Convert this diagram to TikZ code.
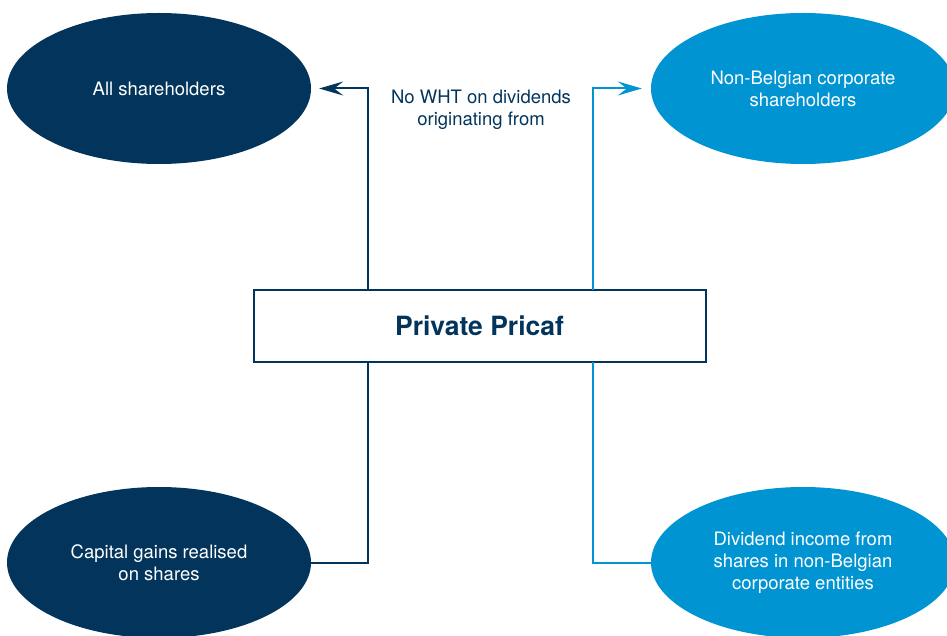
\documentclass[tikz,border=0pt]{standalone}
\usepackage{fontspec}
\setmainfont{TeX Gyre Heros}
\usetikzlibrary{shapes.geometric,arrows.meta}
\definecolor{navy}{HTML}{03355C}
\definecolor{sky}{HTML}{0094D2}
\tikzset{
  blob/.style={ellipse, minimum width=304pt, minimum height=151pt, inner sep=0pt,
    text=white, align=center, font=\fontsize{18.5}{22}\selectfont},
  darkblob/.style={blob, fill=navy},
  lightblob/.style={blob, fill=sky},
  hub/.style={draw=navy, line width=2pt, minimum width=452pt, minimum height=72pt,
    inner sep=0pt, text=navy, font=\fontsize{26.5}{30}\selectfont\bfseries},
  link/.style={line width=2pt},
  tip/.style={-{Stealth[length=24pt, width=14pt, inset=9pt]}},
}
\begin{document}
\begin{tikzpicture}[x=1pt, y=-1pt]
  \useasboundingbox (0,0) rectangle (947,636);
  \clip (0,0) rectangle (947,636);

  % central box
  \node[hub] (pricaf) at (479.5,325.5) {Private Pricaf};

  % outcome ellipses
  \node[darkblob]  (all)   at (159,88.5)  {All shareholders};
  \node[lightblob] (nonbe) at (803,88.5)  {Non-Belgian corporate\\shareholders};
  \node[darkblob]  (gains) at (159,562.5) {Capital gains realised\\on shares};
  \node[lightblob] (divs)  at (803,562.5) {Dividend income from\\shares in non-Belgian\\corporate entities};

  % caption between the upper arrows
  \node[text=navy, align=center, font=\fontsize{18.5}{22}\selectfont] (wht) at (481,110)
    {No WHT on dividends\\originating from};

  % connector anchor points on the box edges
  \coordinate (lt) at (368,289.5);
  \coordinate (rt) at (593,289.5);
  \coordinate (lb) at (368,361.5);
  \coordinate (rb) at (593,361.5);

  \draw[link, navy, tip, shorten >=8pt] (lt) |- (all.east);
  \draw[link, sky, tip, shorten >=9pt] (rt) |- (nonbe.west);
  \draw[link, navy] (lb) |- (gains.east);
  \draw[link, sky] (rb) |- (divs.west);
\end{tikzpicture}
\end{document}
